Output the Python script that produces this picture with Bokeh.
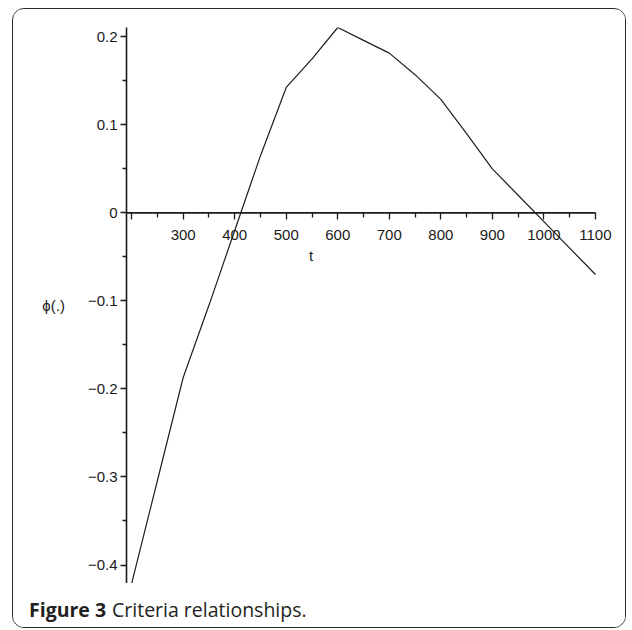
from bokeh.plotting import figure
from bokeh.layouts import column
from bokeh.models import FixedTicker, Label, Range1d
from bokeh.embed import file_html
from bokeh.resources import INLINE

# ---- data ----
t = [200, 250, 300, 350, 400, 450, 500, 550, 600, 650, 700,
     750, 800, 850, 900, 950, 1000, 1050, 1100]
phi = [-0.421, -0.304, -0.187, -0.105, -0.020, 0.065, 0.1425, 0.175, 0.2106,
       0.196, 0.1815, 0.157, 0.129, 0.090, 0.050, 0.020, -0.010, -0.040, -0.070]

x_ticks = [200, 300, 400, 500, 600, 700, 800, 900, 1000, 1100]
x_minor = [250, 350, 450, 550, 650, 750, 850, 950, 1050]
x_labels = ["", "300", "400", "500", "600", "700", "800", "900", "1000", "1100"]

y_ticks = [-0.4, -0.3, -0.2, -0.1, 0, 0.1, 0.2]
y_minor = [-0.35, -0.25, -0.15, -0.05, 0.05, 0.15]
y_labels = ["\u22120.4", "\u22120.3", "\u22120.2", "\u22120.1", "0", "0.1", "0.2"]

x_name = "t"
y_name = "\u03d5(.)"
caption_bold = "Figure 3"
caption_rest = "Criteria relationships."

x_lo, x_hi = 190, 1137          # view (axis drawn from x_lo to last tick)
y_lo, y_hi = -0.421, 0.2106

TICK_FONT = "'Liberation Sans', Arial, sans-serif"
CAP_FONT = "'Open Sans', Lato, sans-serif"
INK = "#1a1a1a"

p = figure(width=612, height=574, output_backend="svg", toolbar_location=None,
           x_range=Range1d(x_lo, x_hi), y_range=Range1d(y_lo, y_hi),
           min_border_left=113, min_border_right=11, min_border_top=18,
           min_border_bottom=0)
p.background_fill_color = "white"
p.border_fill_color = "white"
p.outline_line_color = None
p.grid.visible = False

p.line(t, phi, line_color="#1e1e1e", line_width=1.2)

# x axis crossing at phi = 0 (its line drawn only up to the last tick)
xa = p.xaxis[0]
xa.fixed_location = 0
xa.ticker = FixedTicker(ticks=x_ticks, minor_ticks=x_minor)
xa.major_label_overrides = dict(zip(x_ticks, x_labels))
xa.axis_line_color = None
xa.major_tick_in = 0
xa.major_tick_out = 7
xa.minor_tick_in = 0
xa.minor_tick_out = 5
xa.major_tick_line_width = 1.3
xa.minor_tick_line_width = 1.3
xa.major_tick_line_color = INK
xa.minor_tick_line_color = INK
xa.major_label_standoff = 10
xa.major_label_text_font = TICK_FONT
xa.major_label_text_font_size = "15px"
xa.major_label_text_color = INK
p.segment(x0=[x_lo], y0=[0], x1=[x_ticks[-1]], y1=[0],
          line_color=INK, line_width=1.6)

ya = p.yaxis[0]
ya.ticker = FixedTicker(ticks=y_ticks, minor_ticks=y_minor)
ya.major_label_overrides = dict(zip(y_ticks, y_labels))
ya.axis_line_width = 1.6
ya.axis_line_color = INK
ya.major_tick_in = 0
ya.major_tick_out = 6
ya.minor_tick_in = 0
ya.minor_tick_out = 4
ya.major_tick_line_width = 1.3
ya.minor_tick_line_width = 1.3
ya.major_tick_line_color = INK
ya.minor_tick_line_color = INK
ya.major_label_standoff = 3
ya.major_label_text_font = TICK_FONT
ya.major_label_text_font_size = "15px"
ya.major_label_text_color = INK
ya.axis_label = y_name
ya.axis_label_orientation = "horizontal"
ya.axis_label_standoff = 20
ya.axis_label_text_font = TICK_FONT
ya.axis_label_text_font_size = "15px"
ya.axis_label_text_font_style = "normal"
ya.axis_label_text_color = INK

p.add_layout(Label(x=184.5, y=327.7, x_units="screen", y_units="screen",
                   text=x_name, text_align="center", text_baseline="middle",
                   text_font=TICK_FONT, text_font_size="15px",
                   text_color=INK))

# caption strip
cap = figure(width=612, height=44, output_backend="svg", toolbar_location=None,
             x_range=Range1d(0, 612), y_range=Range1d(0, 44),
             x_axis_type=None, y_axis_type=None, min_border=0)
cap.grid.visible = False
cap.outline_line_color = None
cap.background_fill_color = "white"
cap.border_fill_color = "white"
if "frame_align" in p.properties():
    p.frame_align = False
    cap.frame_align = False
cap.add_layout(Label(x=15.5, y=18.5, text=caption_bold, text_align="left",
                     text_baseline="middle", text_font=CAP_FONT,
                     text_font_style="bold", text_font_size="19.5px",
                     text_color="#231f20"))
cap.add_layout(Label(x=98.5, y=18.5, text=caption_rest, text_align="left",
                     text_baseline="middle", text_font=CAP_FONT,
                     text_font_size="19.5px", text_color="#231f20"))

layout = column(p, cap, spacing=0,
                styles={"border": "1.5px solid #2a2a2a",
                        "border-radius": "12px", "overflow": "hidden",
                        "margin": "7.5px 0 0 12px"})

open("out.html", "w").write(file_html(layout, INLINE))
